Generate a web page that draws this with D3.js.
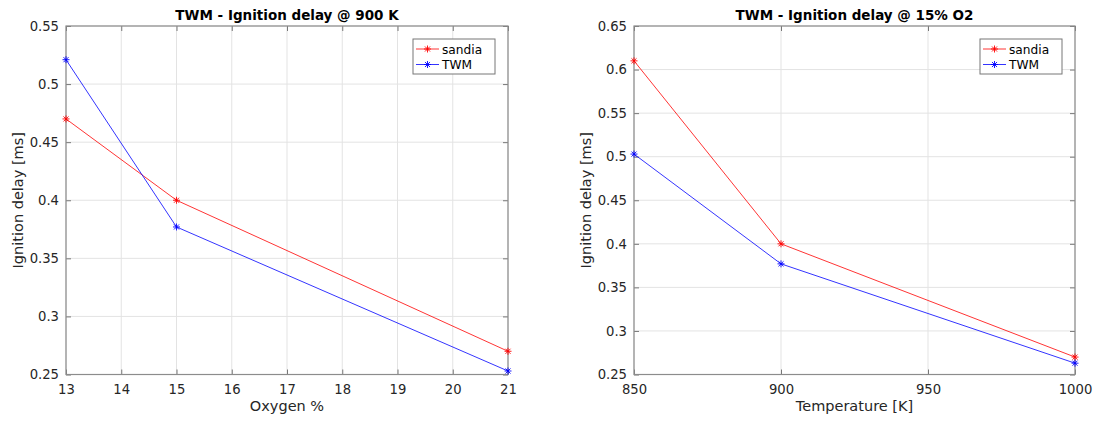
<!DOCTYPE html>
<html>
<head>
<meta charset="utf-8">
<script src="https://cdn.jsdelivr.net/npm/d3@7"></script>
<style>
  html, body { margin: 0; padding: 0; background: #fff; }
  svg { display: block; font-family: "DejaVu Sans", sans-serif; }
</style>
</head>
<body>
<svg id="chart" width="1101" height="421"></svg>
<script>
// Ignition delay vs oxygen fraction at 900 K
const oxygen = [13, 15, 21];
const sandiaByO2 = [0.47, 0.40, 0.27];
const twmByO2 = [0.521, 0.377, 0.253];
const oxygenTicks = [13, 14, 15, 16, 17, 18, 19, 20, 21];
const delayTicksO2 = [0.25, 0.3, 0.35, 0.4, 0.45, 0.5, 0.55];

// Ignition delay vs temperature at 15% O2
const temperature = [850, 900, 1000];
const sandiaByT = [0.61, 0.40, 0.27];
const twmByT = [0.503, 0.377, 0.263];
const temperatureTicks = [850, 900, 950, 1000];
const delayTicksT = [0.25, 0.3, 0.35, 0.4, 0.45, 0.5, 0.55, 0.6, 0.65];

const seriesNames = ["sandia", "TWM"];
const seriesColors = ["#ff0000", "#0000ff"];

const svg = d3.select("#chart");

// eight-spoke asterisk marker
function asterisk(g, x, y, color) {
  const r = 3.5, d = r * 0.72;
  return g.append("path")
    .attr("d", `M${x - r},${y}H${x + r}M${x},${y - r}V${y + r}` +
               `M${x - d},${y - d}L${x + d},${y + d}M${x - d},${y + d}L${x + d},${y - d}`)
    .attr("stroke", color).attr("stroke-width", 0.9).attr("fill", "none");
}

function panel(opts) {
  const { left, right, top, bottom, xDomain, yDomain, xTicks, yTicks,
          xs, ysList, title, xLabel, yLabel } = opts;
  const g = svg.append("g");
  const x = d3.scaleLinear().domain(xDomain).range([left, right]);
  const y = d3.scaleLinear().domain(yDomain).range([bottom, top]);

  // grid
  g.append("g").selectAll("line").data(xTicks).join("line")
    .attr("x1", d => x(d)).attr("x2", d => x(d))
    .attr("y1", top).attr("y2", bottom)
    .attr("stroke", "#e3e3e3").attr("stroke-width", 1);
  g.append("g").selectAll("line").data(yTicks).join("line")
    .attr("x1", left).attr("x2", right)
    .attr("y1", d => y(d)).attr("y2", d => y(d))
    .attr("stroke", "#e3e3e3").attr("stroke-width", 1);

  // axes with inward ticks on all four sides
  const fmtY = d => String(+d.toFixed(2));
  const fmtX = d => String(d);
  const axB = g.append("g").attr("transform", `translate(0,${bottom})`)
    .call(d3.axisBottom(x).tickValues(xTicks).tickSizeInner(-5).tickSizeOuter(0)
      .tickPadding(10).tickFormat(fmtX));
  const axT = g.append("g").attr("transform", `translate(0,${top})`)
    .call(d3.axisTop(x).tickValues(xTicks).tickSizeInner(-5).tickSizeOuter(0).tickFormat(""));
  const axL = g.append("g").attr("transform", `translate(${left},0)`)
    .call(d3.axisLeft(y).tickValues(yTicks).tickSizeInner(-5).tickSizeOuter(0)
      .tickPadding(7).tickFormat(fmtY));
  const axR = g.append("g").attr("transform", `translate(${right},0)`)
    .call(d3.axisRight(y).tickValues(yTicks).tickSizeInner(-5).tickSizeOuter(0).tickFormat(""));
  [axB, axT, axL, axR].forEach(a => {
    a.select(".domain").remove();
    a.selectAll(".tick line").attr("stroke", "#777").attr("stroke-width", 1);
    a.selectAll("text").attr("fill", "#262626").attr("font-size", 13.2)
      .attr("font-family", "DejaVu Sans, sans-serif");
  });

  // frame
  g.append("rect").attr("x", left).attr("y", top)
    .attr("width", right - left).attr("height", bottom - top)
    .attr("fill", "none").attr("stroke", "#8c8c8c").attr("stroke-width", 1.2);

  // series
  ysList.forEach((ys, i) => {
    const pts = xs.map((v, k) => [x(v), y(ys[k])]);
    g.append("path").attr("d", d3.line()(pts))
      .attr("fill", "none").attr("stroke", seriesColors[i]).attr("stroke-width", 0.8);
    pts.forEach(p => asterisk(g, p[0], p[1], seriesColors[i]));
  });

  // title and labels
  g.append("text").attr("x", (left + right) / 2).attr("y", top - 6.5)
    .attr("text-anchor", "middle").attr("font-weight", "bold").attr("font-size", 13.5)
    .attr("fill", "#000").text(title);
  g.append("text").attr("x", (left + right) / 2).attr("y", 411)
    .attr("text-anchor", "middle").attr("font-size", 14.5)
    .attr("fill", "#262626").text(xLabel);
  g.append("text")
    .attr("transform", `translate(${left - 43},${(top + bottom) / 2}) rotate(-90)`)
    .attr("text-anchor", "middle").attr("font-size", 14.5)
    .attr("fill", "#262626").text(yLabel);

  // legend
  const lw = 82, lh = 35;
  const lx = right - 13 - lw, ly = top + 13;
  const leg = g.append("g");
  leg.append("rect").attr("x", lx).attr("y", ly).attr("width", lw).attr("height", lh)
    .attr("fill", "#fff").attr("stroke", "#777").attr("stroke-width", 1);
  seriesNames.forEach((name, i) => {
    const yy = ly + 10 + i * 15.5;
    leg.append("line").attr("x1", lx + 3).attr("x2", lx + 26)
      .attr("y1", yy).attr("y2", yy)
      .attr("stroke", seriesColors[i]).attr("stroke-width", 0.8);
    asterisk(leg, lx + 14.5, yy, seriesColors[i]);
    leg.append("text").attr("x", lx + 29).attr("y", yy + 4.5)
      .attr("font-size", 12.2).attr("fill", "#000").text(name);
  });
}

panel({
  left: 66, right: 508, top: 26, bottom: 374.5,
  xDomain: [13, 21], yDomain: [0.25, 0.55],
  xTicks: oxygenTicks, yTicks: delayTicksO2,
  xs: oxygen, ysList: [sandiaByO2, twmByO2],
  title: "TWM - Ignition delay @ 900 K",
  xLabel: "Oxygen %", yLabel: "Ignition delay [ms]"
});

panel({
  left: 634, right: 1075, top: 26, bottom: 374.5,
  xDomain: [850, 1000], yDomain: [0.25, 0.65],
  xTicks: temperatureTicks, yTicks: delayTicksT,
  xs: temperature, ysList: [sandiaByT, twmByT],
  title: "TWM - Ignition delay @ 15% O2",
  xLabel: "Temperature [K]", yLabel: "Ignition delay [ms]"
});
</script>
</body>
</html>
